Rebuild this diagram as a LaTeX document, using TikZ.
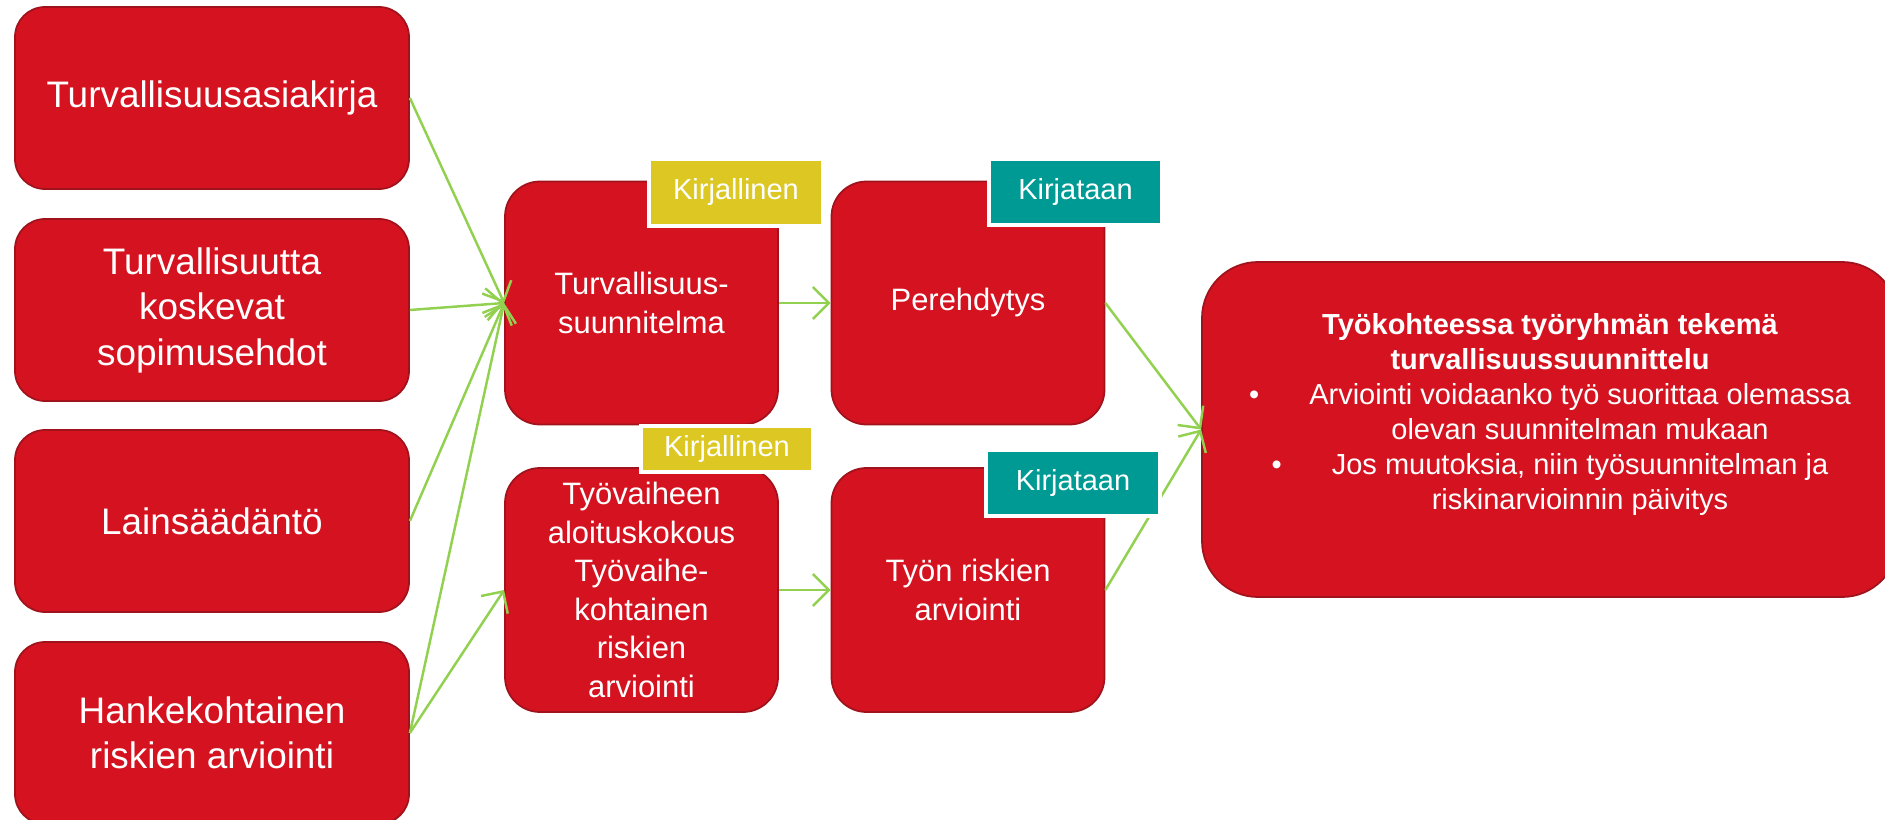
\documentclass[tikz,border=0pt]{standalone}
\usepackage{fontspec}
\setmainfont{Liberation Sans}
\usetikzlibrary{arrows.meta}

\definecolor{boxred}{RGB}{213,19,32}
\definecolor{boxedge}{RGB}{160,18,28}
\definecolor{kirjyellow}{RGB}{221,200,35}
\definecolor{kirjteal}{RGB}{0,154,148}
\definecolor{arrowgreen}{RGB}{146,208,80}

\begin{document}
\begin{tikzpicture}[
  sourcebox/.style={rectangle, rounded corners=0.3cm, fill=boxred, draw=boxedge, line width=0.5pt,
    text=white, align=center, inner sep=0pt, minimum width=3.94cm, minimum height=1.82cm,
    font=\fontsize{10.5}{12.95}\selectfont},
  stepbox/.style={rectangle, rounded corners=0.35cm, fill=boxred, draw=boxedge, line width=0.5pt,
    text=white, align=center, inner sep=0pt, minimum width=2.73cm, minimum height=2.43cm,
    font=\fontsize{8.8}{10.95}\selectfont},
  tagbox/.style={rectangle, draw=white, line width=0.9pt, text=white, inner sep=0pt,
    font=\fontsize{8.25}{9.9}\selectfont},
  arr/.style={-{Straight Barb[length=0.16cm,width=0.32cm]}, arrowgreen, line width=0.7pt}
]
\useasboundingbox (0,0) rectangle (18.85,-8.20);

  % Starting documents on the left
  \node[sourcebox] (asiakirja) at (2.12,-0.98) {Turvallisuusasiakirja};
  \node[sourcebox] (sopimus) at (2.12,-3.10) {Turvallisuutta\\koskevat\\sopimusehdot};
  \node[sourcebox] (laki) at (2.12,-5.21) {Lainsäädäntö};
  \node[sourcebox] (hankeriski) at (2.12,-7.33) {Hankekohtainen\\riskien arviointi};

  % Plans and their follow-up
  \node[stepbox] (suunnitelma) at (6.415,-3.03) {Turvallisuus-\\suunnitelma};
  \node[stepbox] (perehdytys) at (9.68,-3.03) {Perehdytys};
  \node[stepbox, minimum height=2.44cm] (aloitus) at (6.415,-5.90)
    {Työvaiheen\\aloituskokous\\Työvaihe-\\kohtainen\\riskien\\arviointi};
  \node[stepbox, minimum height=2.44cm] (tyoriski) at (9.68,-5.90) {Työn riskien\\arviointi};

  % Work site planning
  \node[rectangle, rounded corners=0.56cm, fill=boxred, draw=boxedge, line width=0.5pt,
    minimum width=6.96cm, minimum height=3.35cm] (tyokohde) at (15.50,-4.295) {};
  \node[text=white, align=center, inner sep=0pt, font=\fontsize{8.25}{9.96}\selectfont]
    (tyokohdeteksti) at (15.50,-4.145)
    {\textbf{Työkohteessa työryhmän tekemä}\\
     \textbf{turvallisuussuunnittelu}\\
     \textbullet\hspace{0.5cm}Arviointi voidaanko työ suorittaa olemassa\\
     \hspace*{0.6cm}olevan suunnitelman mukaan\\
     \textbullet\hspace{0.5cm}Jos muutoksia, niin työsuunnitelman ja\\
     \hspace*{0.6cm}riskinarvioinnin päivitys};

  % Arrows
  \draw[arr] (asiakirja.east) -- (suunnitelma.west);
  \draw[arr] (sopimus.east) -- (suunnitelma.west);
  \draw[arr] (laki.east) -- (suunnitelma.west);
  \draw[arr] (hankeriski.east) -- (suunnitelma.west);
  \draw[arr] (hankeriski.east) -- (aloitus.west);
  \draw[arr] (suunnitelma.east) -- (perehdytys.west);
  \draw[arr] (aloitus.east) -- (tyoriski.west);
  \draw[arr] (perehdytys.east) -- (tyokohde.west);
  \draw[arr] (tyoriski.east) -- (tyokohde.west);

  % Tags on the corners
  \node[tagbox, fill=kirjyellow, minimum width=1.74cm, minimum height=0.67cm] (kirj1) at (7.36,-1.925) {Kirjallinen};
  \node[tagbox, fill=kirjyellow, minimum width=1.72cm, minimum height=0.46cm] (kirj2) at (7.27,-4.49) {Kirjallinen};
  \node[tagbox, fill=kirjteal, minimum width=1.73cm, minimum height=0.66cm] (kirjataan1) at (10.755,-1.92) {Kirjataan};
  \node[tagbox, fill=kirjteal, minimum width=1.74cm, minimum height=0.66cm] (kirjataan2) at (10.73,-4.83) {Kirjataan};

\end{tikzpicture}
\end{document}
